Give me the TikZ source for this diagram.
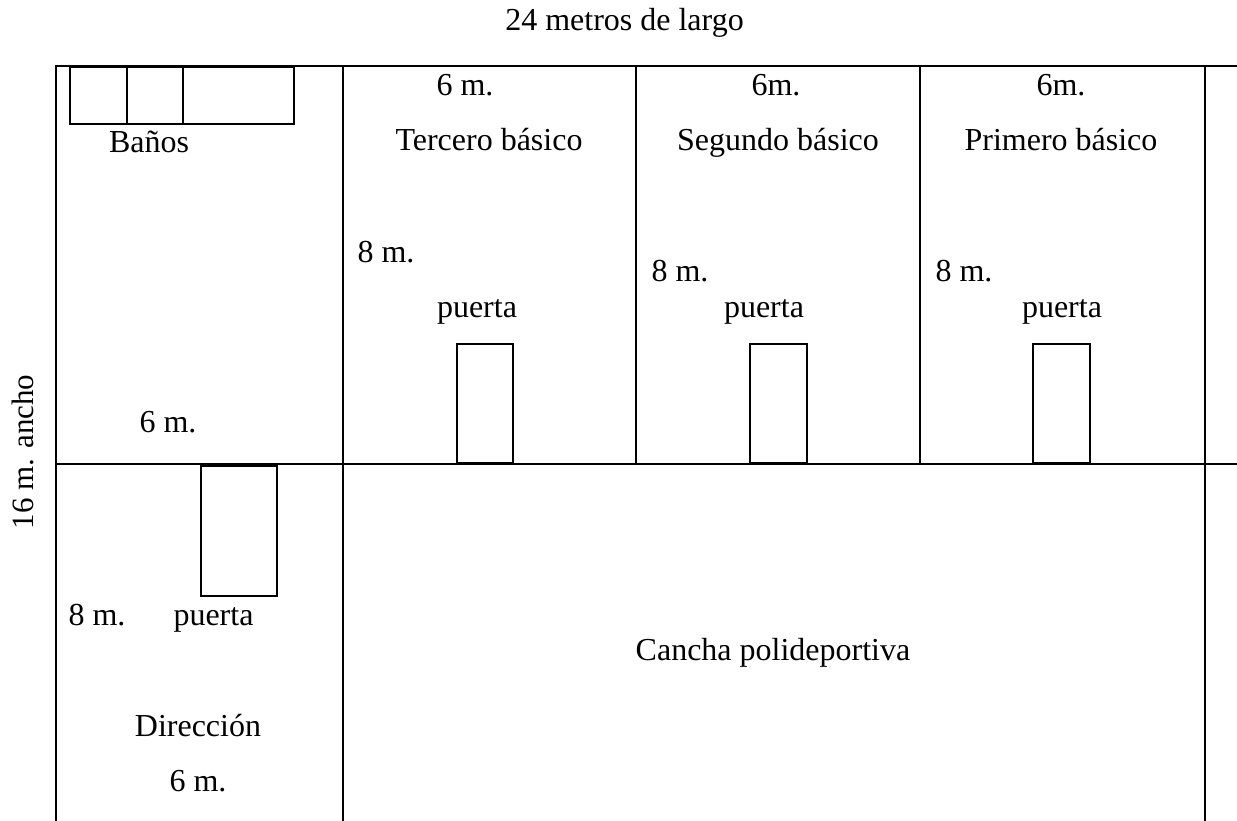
\documentclass[tikz,border=0pt]{standalone}
\usepackage{fontspec}
\setmainfont{Liberation Serif}
\tikzset{
  wall/.style={draw=black,line width=1.8pt},
  lbl/.style={inner sep=0pt,anchor=base,font=\fontsize{32}{36}\selectfont,text=black},
}
\begin{document}
\begin{tikzpicture}[x=1pt,y=-1pt]
\useasboundingbox (0,0) rectangle (1237,821);
\fill[white] (0,0) rectangle (1237,821);
\draw[wall] (56,821) -- (56,66) -- (1237,66);
\draw[wall] (56,464) -- (1237,464);
\draw[wall] (343,66) -- (343,821);
\draw[wall] (636,66) -- (636,464);
\draw[wall] (920,66) -- (920,464);
\draw[wall] (1205,66) -- (1205,821);
\draw[wall] (70,67) rectangle (294,124);
\draw[wall] (127,67) -- (127,124);
\draw[wall] (183,67) -- (183,124);
\draw[wall] (457,344) rectangle (513,463);
\draw[wall] (750,344) rectangle (807,463);
\draw[wall] (1033,344) rectangle (1090,463);
\draw[wall] (201,466) rectangle (277,596);
\draw[black,line width=2.5pt] (201,466) -- (277,466);
\node[lbl] (t0) at (624.5,31) {24 metros de largo};
\node[lbl,rotate=90,font=\fontsize{31}{36}\selectfont] (t1) at (33.5,452) {16 m. ancho};
\node[lbl] (a1) at (465,96) {6 m.};
\node[lbl] (a2) at (776,96) {6m.};
\node[lbl] (a3) at (1061,96) {6m.};
\node[lbl] (b0) at (149,153) {Baños};
\node[lbl] (b1) at (489,151) {Tercero básico};
\node[lbl] (b2) at (778,151) {Segundo básico};
\node[lbl] (b3) at (1061,151) {Primero básico};
\node[lbl] (c1) at (386,262) {8 m.};
\node[lbl] (c2) at (680,281) {8 m.};
\node[lbl] (c3) at (964,281) {8 m.};
\node[lbl] (d1) at (477,317) {puerta};
\node[lbl] (d2) at (764,317) {puerta};
\node[lbl] (d3) at (1062,317) {puerta};
\node[lbl] (e0) at (168,432) {6 m.};
\node[lbl] (f0) at (97,625) {8 m.};
\node[lbl] (f1) at (213.5,625) {puerta};
\node[lbl] (g0) at (198,736) {Dirección};
\node[lbl] (g1) at (198,791) {6 m.};
\node[lbl] (h0) at (773,660) {Cancha polideportiva};
\end{tikzpicture}
\end{document}
